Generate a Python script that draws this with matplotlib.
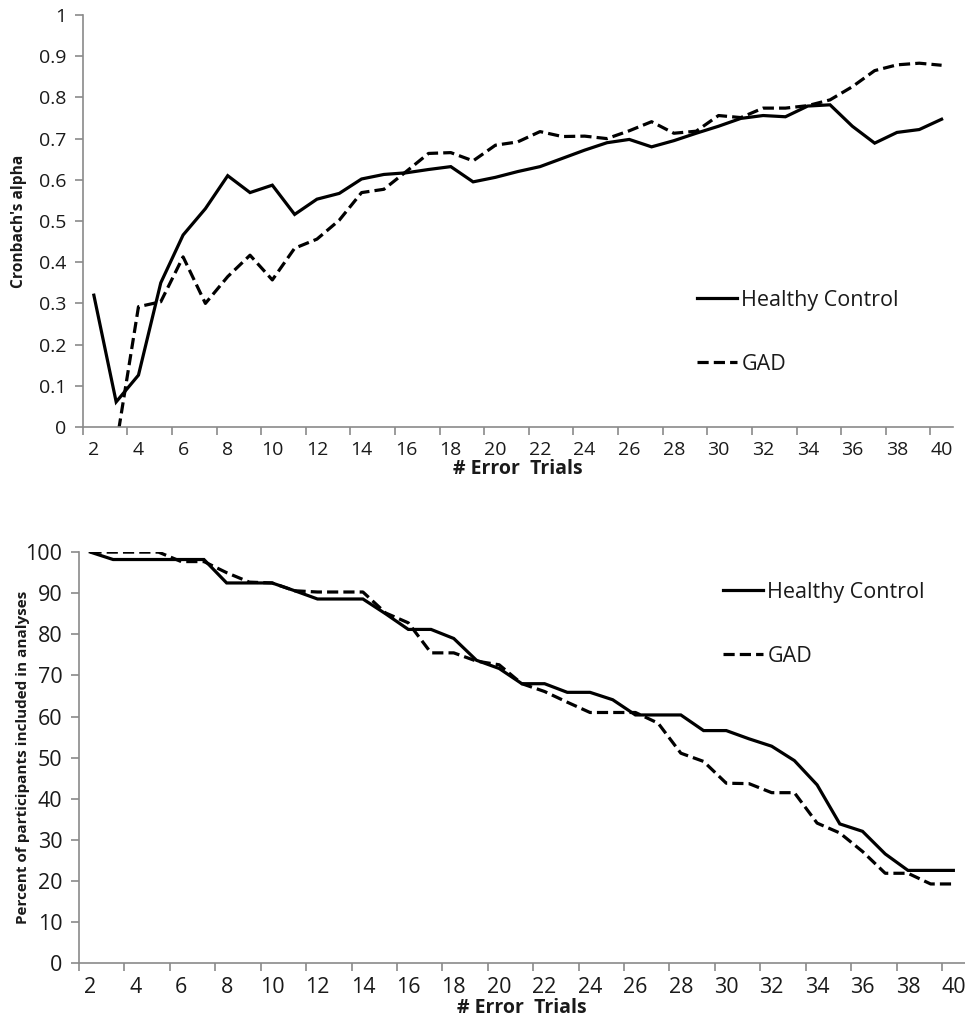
import numpy as np
import matplotlib
matplotlib.use("Agg")
import matplotlib.pyplot as plt

plt.rcParams['font.family'] = ['Open Sans', 'DejaVu Sans']

trials = list(range(2, 41))

# Cronbach's alpha by number of error trials
alpha_hc = [0.32, 0.061, 0.126, 0.35, 0.466, 0.53, 0.61, 0.569, 0.587, 0.516,
            0.553, 0.567, 0.602, 0.613, 0.617, 0.625, 0.632, 0.595, 0.606, 0.62,
            0.632, 0.652, 0.672, 0.69, 0.698, 0.68, 0.695, 0.713, 0.73, 0.749,
            0.756, 0.753, 0.779, 0.782, 0.73, 0.689, 0.715, 0.722, 0.747]
alpha_gad = [np.nan, -0.045, 0.292, 0.304, 0.413, 0.30, 0.365, 0.417, 0.357, 0.434,
             0.456, 0.502, 0.569, 0.577, 0.62, 0.664, 0.666, 0.646, 0.684, 0.692,
             0.717, 0.705, 0.706, 0.70, 0.719, 0.741, 0.713, 0.718, 0.756, 0.751,
             0.774, 0.774, 0.78, 0.794, 0.826, 0.865, 0.879, 0.883, 0.878]

# percent of participants kept in the analyses
pct_hc = [100, 98.2, 98.2, 98.2, 98.2, 98.2, 92.5, 92.5, 92.5, 90.6,
          88.6, 88.6, 88.6, 85.0, 81.2, 81.2, 79.0, 73.7, 71.7, 68.0,
          68.0, 65.9, 65.9, 64.1, 60.4, 60.4, 60.4, 56.6, 56.6, 54.6,
          52.8, 49.3, 43.4, 33.9, 32.1, 26.6, 22.6, 22.6, 22.6]
pct_gad = [100, 100, 100, 100, 97.7, 97.7, 95.0, 92.7, 92.5, 90.6,
           90.3, 90.3, 90.3, 85.2, 82.8, 75.5, 75.5, 73.5, 72.6, 68.0,
           66.1, 63.5, 61.0, 61.0, 61.0, 58.4, 51.1, 49.1, 43.8, 43.7,
           41.5, 41.5, 34.1, 31.7, 27.2, 21.9, 21.9, 19.3, 19.3]

alpha_ticks = [0, 0.1, 0.2, 0.3, 0.4, 0.5, 0.6, 0.7, 0.8, 0.9, 1]
alpha_labels = ['0', '0.1', '0.2', '0.3', '0.4', '0.5', '0.6', '0.7', '0.8', '0.9', '1']
pct_ticks = list(range(0, 101, 10))

AXCOL = '#8a8a8a'
TXT = '#1a1a1a'
DASH = (3.5, 1.6)


def style_axes(ax, yticks, ylabels, ylim, tick_fs, ylabel, ylabel_fs, ylabel_x):
    for s in ['top', 'right']:
        ax.spines[s].set_visible(False)
    for s in ['left', 'bottom']:
        ax.spines[s].set_color(AXCOL)
        ax.spines[s].set_linewidth(1.2)
    ax.set_xlim(1.5, 40.5)
    ax.set_ylim(*ylim)
    # labels sit on the categories, tick marks between every second one
    ax.set_xticks(trials[::2])
    ax.set_xticklabels([str(t) for t in trials[::2]])
    ax.set_xticks(np.arange(1.5, 40.5, 2), minor=True)
    ax.tick_params(axis='x', which='major', length=0, pad=10,
                   labelsize=tick_fs, labelcolor=TXT)
    ax.tick_params(axis='x', which='minor', length=6, width=1.2,
                   color=AXCOL, direction='out')
    ax.set_yticks(yticks)
    ax.set_yticklabels(ylabels)
    ax.tick_params(axis='y', length=6, width=1.2, color=AXCOL, pad=6,
                   labelsize=tick_fs, labelcolor=TXT)
    ax.set_ylabel(ylabel, fontsize=ylabel_fs, fontweight='bold', color=TXT)
    ax.yaxis.set_label_coords(ylabel_x, 0.5)
    ax.set_xlabel('# Error  Trials', fontsize=14, fontweight='bold', color=TXT,
                  labelpad=0)


fig = plt.figure(figsize=(9.65, 10.27), dpi=100)
ax1 = fig.add_axes([0.0857, 0.5842, 0.9016, 0.4012])
ax2 = fig.add_axes([0.0819, 0.0620, 0.9178, 0.4004])

for ax, hc, gad in [(ax1, alpha_hc, alpha_gad), (ax2, pct_hc, pct_gad)]:
    ax.plot(trials, hc, color='black', lw=2.3, label='Healthy Control',
            solid_joinstyle='miter')
    ax.plot(trials, gad, color='black', lw=2.3, label='GAD',
            linestyle=(0, DASH), dash_capstyle='butt')

style_axes(ax1, alpha_ticks, alpha_labels, (0, 1), 14, "Cronbach's alpha",
           11.2, -0.064)
style_axes(ax2, pct_ticks, [str(t) for t in pct_ticks], (0, 100), 15.5,
           'Percent of participants included in analyses', 11, -0.055)

leg_kw = dict(frameon=False, fontsize=15.5, handlelength=1.86, handletextpad=0.2,
              labelspacing=2.0, borderpad=0, borderaxespad=0, loc='center left',
              bbox_transform=fig.transFigure)
leg1 = ax1.legend(bbox_to_anchor=(697 / 965, 1 - 332.5 / 1027), **leg_kw)
leg2 = ax2.legend(bbox_to_anchor=(723 / 965, 1 - 624.5 / 1027), **leg_kw)
for leg in (leg1, leg2):
    for t in leg.get_texts():
        t.set_color(TXT)

fig.savefig('out.png', dpi=100)
